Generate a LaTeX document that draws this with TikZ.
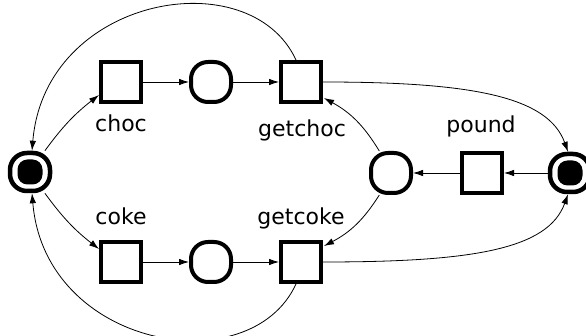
\documentclass[tikz,border=0pt]{standalone}
\usepackage{fontspec}
\setmainfont{DejaVu Sans}
\usetikzlibrary{arrows.meta}
\begin{document}
\begin{tikzpicture}[x=1pt,y=-1pt,
  trans/.style={draw,line width=4pt,minimum size=40pt,inner sep=0pt},
  place/.style={draw,line width=4pt,minimum size=40pt,inner sep=0pt,rounded corners=17pt},
  marked/.style={place,line width=4.5pt,minimum width=40pt,minimum height=38pt,
    path picture={\fill[rounded corners=10pt]
      ([shift={(-12.5pt,-12.5pt)}]path picture bounding box.center) rectangle
      ([shift={(12.5pt,12.5pt)}]path picture bounding box.center);}},
  lbl/.style={anchor=base,font=\fontsize{22pt}{24pt}\selectfont,inner sep=0pt},
  arc/.style={line width=0.8pt,-{Latex[length=10pt,width=6.5pt]}}
]
\useasboundingbox (0,0) rectangle (586,336);
\node[marked] (L) at (30,172) {};
\node[trans] (choc) at (121,82) {};
\node[place] (p1) at (211,82) {};
\node[trans] (getchoc) at (301,82) {};
\node[trans] (coke) at (121,262) {};
\node[place] (p2) at (211,262) {};
\node[trans] (getcoke) at (301,262) {};
\node[place] (M) at (391,173) {};
\node[trans] (pound) at (482,173) {};
\node[marked] (R) at (570,173) {};
\node[lbl] (lchoc) at (121,132) {choc};
\node[lbl] (lgetchoc) at (302,137) {getchoc};
\node[lbl] (lcoke) at (121,225) {coke};
\node[lbl] (lgetcoke) at (301,225) {getcoke};
\node[lbl] (lpound) at (481,133) {pound};
\draw[arc] (L.55) to[bend left=8] ([yshift=-13pt]choc.west);
\draw[arc] (L.-55) to[bend right=8] ([yshift=13pt]coke.west);
\draw[arc] (choc) -- (p1);
\draw[arc] (p1) -- (getchoc);
\draw[arc] (coke) -- (p2);
\draw[arc] (p2) -- (getcoke);
\draw[arc] (R) -- (pound);
\draw[arc] (pound) -- (M);
\draw[arc] (M.118) to[bend right=15] ([xshift=1pt,yshift=6pt]getchoc.south east);
\draw[arc] (M.242) to[bend left=15] ([xshift=1pt,yshift=-6pt]getcoke.north east);
\draw[arc] ([xshift=-5pt]getchoc.north) .. controls +(-46,-100) and +(13,-155) .. ([xshift=2pt]L.north);
\draw[arc] ([xshift=-5pt]getcoke.south) .. controls +(-46,100) and +(13,155) .. ([xshift=2pt]L.south);
\draw[arc] (getchoc.east) .. controls +(150,0) and +(-20,-55) .. ([xshift=-2pt]R.north);
\draw[arc] (getcoke.east) .. controls +(150,0) and +(-20,55) .. ([xshift=-2pt]R.south);
\end{tikzpicture}
\end{document}
